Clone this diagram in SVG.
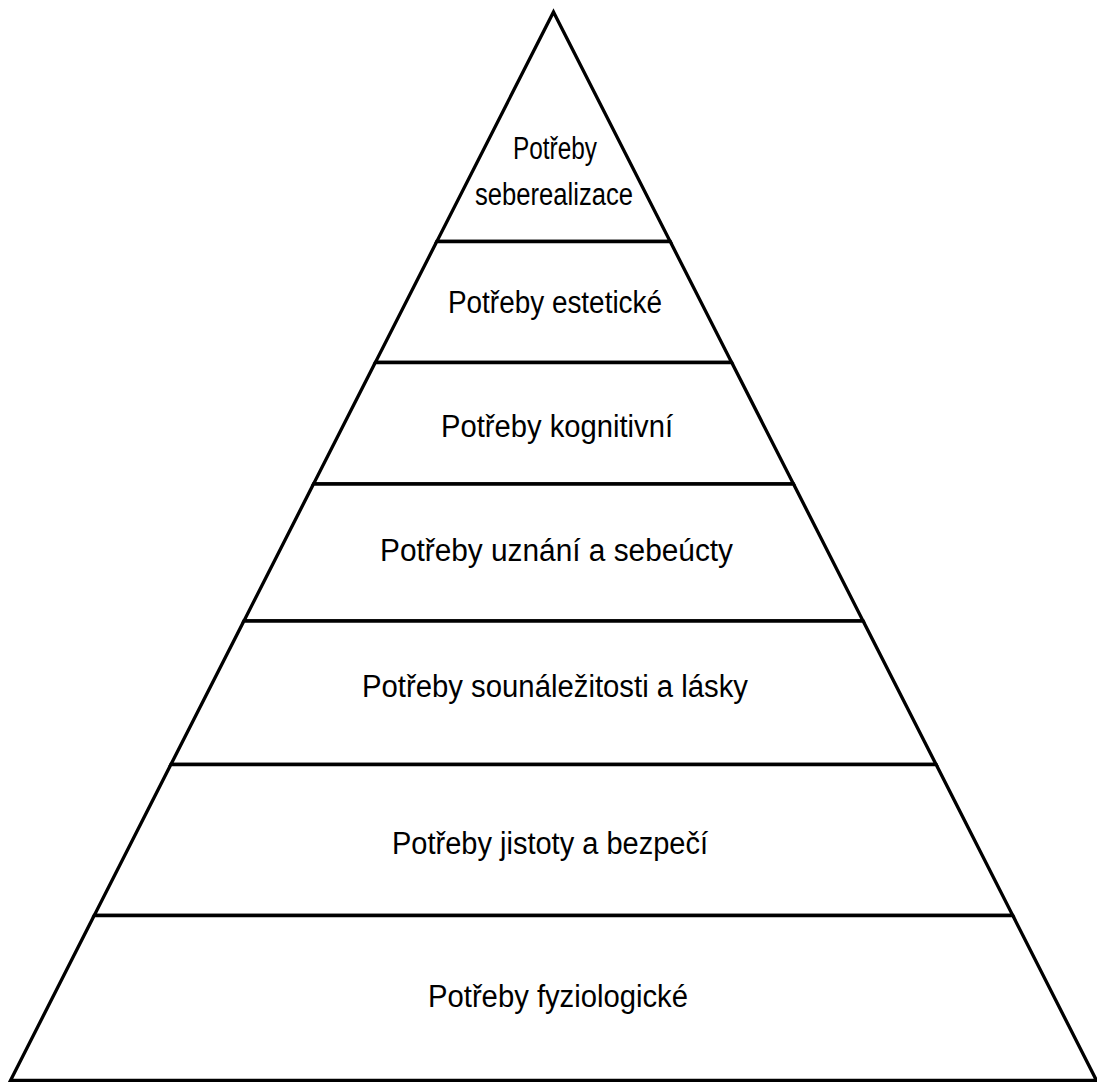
<svg xmlns="http://www.w3.org/2000/svg" width="1097" height="1082" viewBox="0 0 1097 1082">
<style>
.tier{fill:#ffffff;stroke:#000000;stroke-width:3.3;stroke-linejoin:miter}
.lbl{font-family:"Liberation Sans",Arial,sans-serif;font-size:31px;fill:#000000;text-anchor:middle}
</style>
<rect x="0" y="0" width="1097" height="1082" fill="#ffffff"/>
<g id="tier-7">
<polygon class="tier" points="553.5,12 670.2,241.5 436.8,241.5"/>
<text class="lbl" x="555" y="159" textLength="84" lengthAdjust="spacingAndGlyphs">Potřeby</text>
<text class="lbl" x="554" y="205" textLength="158" lengthAdjust="spacingAndGlyphs">seberealizace</text>
</g>
<g id="tier-6">
<polygon class="tier" points="436.8,241.5 670.2,241.5 731.7,362.5 375.3,362.5"/>
<text class="lbl" x="555" y="313" textLength="214" lengthAdjust="spacingAndGlyphs">Potřeby estetické</text>
</g>
<g id="tier-5">
<polygon class="tier" points="375.3,362.5 731.7,362.5 793.5,484 313.5,484"/>
<text class="lbl" x="557" y="437" textLength="232" lengthAdjust="spacingAndGlyphs">Potřeby kognitivní</text>
</g>
<g id="tier-4">
<polygon class="tier" points="313.5,484 793.5,484 863.1,621 243.9,621"/>
<text class="lbl" x="556.5" y="561" textLength="353" lengthAdjust="spacingAndGlyphs">Potřeby uznání a sebeúcty</text>
</g>
<g id="tier-3">
<polygon class="tier" points="243.9,621 863.1,621 936.1,764.5 170.9,764.5"/>
<text class="lbl" x="555" y="697" textLength="386" lengthAdjust="spacingAndGlyphs">Potřeby sounáležitosti a lásky</text>
</g>
<g id="tier-2">
<polygon class="tier" points="170.9,764.5 936.1,764.5 1012.8,915.5 94.2,915.5"/>
<text class="lbl" x="550" y="854" textLength="316" lengthAdjust="spacingAndGlyphs">Potřeby jistoty a bezpečí</text>
</g>
<g id="tier-1">
<polygon class="tier" points="94.2,915.5 1012.8,915.5 1096.5,1080.5 10.5,1080.5"/>
<text class="lbl" x="558" y="1007" textLength="260" lengthAdjust="spacingAndGlyphs">Potřeby fyziologické</text>
</g>
<g id="connectors"></g>
</svg>
